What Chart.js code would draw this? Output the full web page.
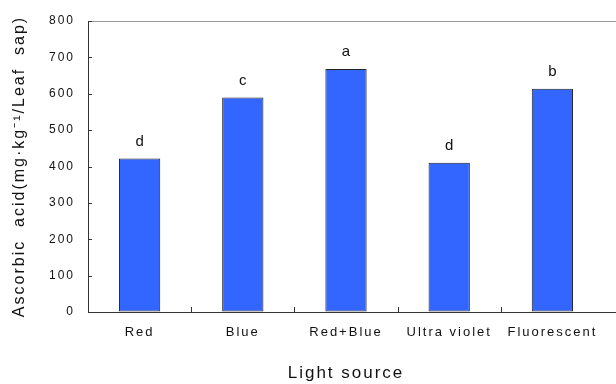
<!DOCTYPE html>
<html>
<head>
<meta charset="utf-8">
<script src="https://cdn.jsdelivr.net/npm/chart.js@4/dist/chart.umd.min.js"></script>
<style>
html, body { margin: 0; padding: 0; background: #fff; overflow: hidden; }
#wrap { width: 616px; height: 384px; }
</style>
</head>
<body>
<div id="wrap"><canvas id="myChart"></canvas></div>
<script>
const lightSources = ['Red', 'Blue', 'Red+Blue', 'Ultra violet', 'Fluorescent'];
const ascorbicAcid = [422, 590, 668, 410, 614];
const sigLetters = ['d', 'c', 'a', 'd', 'b'];
const yMin = 0, yMax = 800, yStep = 100;

const FONT = '"Liberation Sans", Arial, sans-serif';

// text in the original is widely spaced, so spread the letters a bit
const spacing = {
    id: 'spacing',
    beforeDraw(chart) {
        chart.ctx.letterSpacing = '2px';
    }
};

// frame lines past the last bar, inward ticks, and the letters over the bars
const extras = {
    id: 'extras',
    afterDraw(chart) {
        const ctx = chart.ctx;
        const area = chart.chartArea;
        const x = chart.scales.x;
        const y = chart.scales.y;
        const w = chart.width;
        ctx.save();
        ctx.letterSpacing = '0px';
        ctx.lineWidth = 1;

        ctx.strokeStyle = '#9a9a9a';
        ctx.beginPath();
        ctx.moveTo(area.left, Math.round(area.top) + 0.5);
        ctx.lineTo(w, Math.round(area.top) + 0.5);
        ctx.stroke();

        ctx.strokeStyle = '#333';
        ctx.beginPath();
        ctx.moveTo(area.left, Math.round(area.bottom) + 0.5);
        ctx.lineTo(w, Math.round(area.bottom) + 0.5);
        ctx.stroke();

        ctx.beginPath();
        for (let v = yMin; v <= yMax; v += yStep) {
            const py = Math.round(y.getPixelForValue(v)) + 0.5;
            ctx.moveTo(area.left, py);
            ctx.lineTo(area.left + 4, py);
        }
        for (let i = 0; i < lightSources.length - 1; i++) {
            const px = Math.round((x.getPixelForValue(i) + x.getPixelForValue(i + 1)) / 2) + 0.5;
            ctx.moveTo(px, area.bottom);
            ctx.lineTo(px, area.bottom - 5);
        }
        ctx.stroke();

        const meta = chart.getDatasetMeta(0);
        ctx.fillStyle = '#111';
        ctx.font = '15px ' + FONT;
        ctx.textAlign = 'center';
        ctx.textBaseline = 'middle';
        meta.data.forEach((bar, i) => {
            ctx.fillText(sigLetters[i], bar.x, bar.y - 17);
        });
        ctx.restore();
    }
};

const data = {
    labels: lightSources,
    datasets: [{
        data: ascorbicAcid,
        backgroundColor: '#3366ff',
        borderColor: '#222',
        borderWidth: 1,
        borderSkipped: false,
        categoryPercentage: 1,
        barPercentage: 0.4
    }]
};

const config = {
    type: 'bar',
    data: data,
    options: {
        responsive: true,
        maintainAspectRatio: false,
        animation: false,
        layout: { padding: { top: 21, right: 12, bottom: 0, left: 0 } },
        plugins: {
            legend: { display: false },
            tooltip: { enabled: false }
        },
        scales: {
            x: {
                grid: { display: false },
                border: { display: false },
                ticks: { color: '#111', font: { family: FONT, size: 13 }, padding: 5, maxRotation: 0 },
                title: {
                    display: true,
                    text: 'Light source',
                    color: '#111',
                    font: { family: FONT, size: 17 },
                    padding: { top: 0, bottom: 0 }
                },
                afterFit(scale) { scale.height = 72; }
            },
            y: {
                min: yMin,
                max: yMax,
                grid: { drawOnChartArea: false, drawTicks: false },
                border: { display: true, color: '#333', width: 1 },
                ticks: { stepSize: yStep, color: '#111', font: { family: FONT, size: 12 }, padding: 13 },
                title: {
                    display: true,
                    text: 'Ascorbic  acid(mg·kg⁻¹/Leaf  sap)',
                    color: '#111',
                    font: { family: FONT, size: 16 },
                    padding: { top: 10, bottom: 0 }
                },
                afterFit(scale) { scale.width = 88; }
            }
        }
    },
    plugins: [spacing, extras]
};

const myChart = new Chart(document.getElementById('myChart'), config);
</script>
</body>
</html>
